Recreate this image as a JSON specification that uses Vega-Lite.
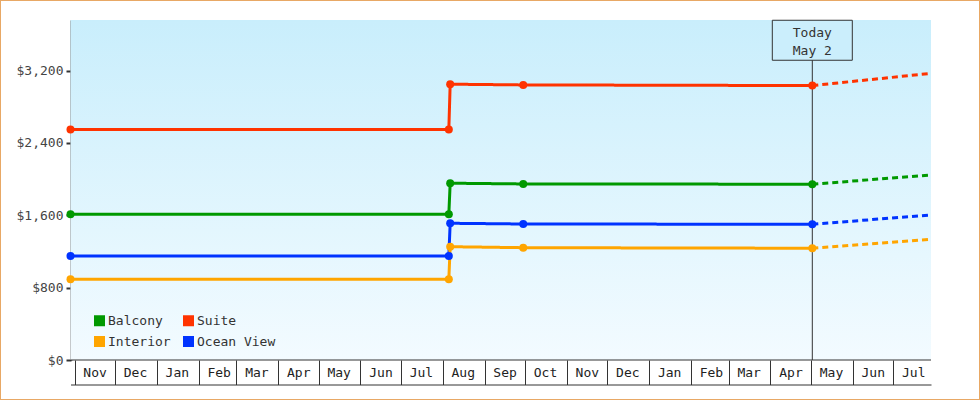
{
  "$schema": "https://vega.github.io/schema/vega-lite/v6.json",
  "width": 980,
  "height": 400,
  "autosize": {"type": "none"},
  "padding": 0,
  "background": "white",
  "config": {
    "font": "DejaVu Sans Mono",
    "view": {"stroke": "#e8a865", "strokeWidth": 2, "fill": "white"},
    "axis": {
      "labelFont": "DejaVu Sans Mono",
      "labelFontSize": 13,
      "labelColor": "#333",
      "domainColor": "#333",
      "tickColor": "#333",
      "grid": false
    },
    "legend": {
      "orient": "none",
      "legendX": 93,
      "legendY": 314,
      "title": null,
      "columns": 2,
      "symbolType": "square",
      "symbolSize": 121,
      "symbolOpacity": 1,
      "symbolStrokeWidth": 0,
      "labelFont": "DejaVu Sans Mono",
      "labelFontSize": 13,
      "labelColor": "#333",
      "labelOffset": 2,
      "columnPadding": 11,
      "rowPadding": 7,
      "padding": 0
    }
  },
  "datasets": {
    "frame": [
      {"date": "2020-10-29T00:00:00", "end": "2022-07-29T00:00:00", "price": 0, "top": 3760}
    ],
    "today": [
      {"date": "2022-05-02T00:00:00", "price": 0, "top": 3536}
    ],
    "label": [
      {"date": "2022-05-02T00:00:00", "price": 3536, "label": "Today\nMay 2"}
    ],
    "prices": [
      {"cabin": "Suite", "kind": "actual", "date": "2020-10-29T00:00:00", "price": 2550},
      {"cabin": "Suite", "kind": "actual", "date": "2021-08-05T12:00:00", "price": 2550},
      {"cabin": "Suite", "kind": "actual", "date": "2021-08-06T12:00:00", "price": 3050},
      {"cabin": "Suite", "kind": "actual", "date": "2021-09-29T16:00:00", "price": 3042},
      {"cabin": "Suite", "kind": "actual", "date": "2022-05-02T00:00:00", "price": 3035},
      {"cabin": "Suite", "kind": "forecast", "date": "2022-05-02T00:00:00", "price": 3035},
      {"cabin": "Suite", "kind": "forecast", "date": "2022-07-29T00:00:00", "price": 3170},
      {"cabin": "Balcony", "kind": "actual", "date": "2020-10-29T00:00:00", "price": 1612},
      {"cabin": "Balcony", "kind": "actual", "date": "2021-08-05T12:00:00", "price": 1612},
      {"cabin": "Balcony", "kind": "actual", "date": "2021-08-06T12:00:00", "price": 1955},
      {"cabin": "Balcony", "kind": "actual", "date": "2021-09-29T16:00:00", "price": 1947},
      {"cabin": "Balcony", "kind": "actual", "date": "2022-05-02T00:00:00", "price": 1944},
      {"cabin": "Balcony", "kind": "forecast", "date": "2022-05-02T00:00:00", "price": 1944},
      {"cabin": "Balcony", "kind": "forecast", "date": "2022-07-29T00:00:00", "price": 2046},
      {"cabin": "Ocean View", "kind": "actual", "date": "2020-10-29T00:00:00", "price": 1150},
      {"cabin": "Ocean View", "kind": "actual", "date": "2021-08-05T12:00:00", "price": 1150},
      {"cabin": "Ocean View", "kind": "actual", "date": "2021-08-06T12:00:00", "price": 1512},
      {"cabin": "Ocean View", "kind": "actual", "date": "2021-09-29T16:00:00", "price": 1504},
      {"cabin": "Ocean View", "kind": "actual", "date": "2022-05-02T00:00:00", "price": 1501},
      {"cabin": "Ocean View", "kind": "forecast", "date": "2022-05-02T00:00:00", "price": 1501},
      {"cabin": "Ocean View", "kind": "forecast", "date": "2022-07-29T00:00:00", "price": 1604},
      {"cabin": "Interior", "kind": "actual", "date": "2020-10-29T00:00:00", "price": 893},
      {"cabin": "Interior", "kind": "actual", "date": "2021-08-05T12:00:00", "price": 893},
      {"cabin": "Interior", "kind": "actual", "date": "2021-08-06T12:00:00", "price": 1253},
      {"cabin": "Interior", "kind": "actual", "date": "2021-09-29T16:00:00", "price": 1242},
      {"cabin": "Interior", "kind": "actual", "date": "2022-05-02T00:00:00", "price": 1236},
      {"cabin": "Interior", "kind": "forecast", "date": "2022-05-02T00:00:00", "price": 1236},
      {"cabin": "Interior", "kind": "forecast", "date": "2022-07-29T00:00:00", "price": 1335}
    ]
  },
  "encoding": {
    "x": {
      "field": "date",
      "type": "temporal",
      "title": null,
      "scale": {
        "type": "time",
        "domain": [{"year": 2020, "month": 10, "date": 29}, {"year": 2022, "month": 7, "date": 29}],
        "range": [70.5, 931],
        "nice": false
      },
      "axis": {
        "orient": "bottom",
        "offset": -15.5,
        "tickCount": {"interval": "month", "step": 1},
        "format": "%b",
        "tickSize": -24.5,
        "tickWidth": 1,
        "domainWidth": 1,
        "labelOffset": 20,
        "labelAlign": "center",
        "labelBaseline": "middle",
        "labelPadding": 12,
        "labelFlush": false,
        "labelOverlap": false,
        "labelBound": false,
        "labelColor": "#222"
      }
    },
    "y": {
      "field": "price",
      "type": "quantitative",
      "title": null,
      "scale": {"domain": [0, 3760], "range": [360, 20], "nice": false, "zero": true},
      "axis": {
        "orient": "left",
        "offset": -71,
        "values": [0, 800, 1600, 2400, 3200],
        "format": "$,d",
        "tickSize": 5,
        "tickWidth": 2,
        "domainWidth": 2,
        "labelPadding": 3,
        "labelFlush": false,
        "labelColor": "#444"
      }
    },
    "color": {
      "field": "cabin",
      "type": "nominal",
      "scale": {
        "domain": ["Balcony", "Interior", "Suite", "Ocean View"],
        "range": ["#009900", "#ffa500", "#ff3300", "#0033ff"]
      },
      "legend": {
        "encode": {
          "symbols": {
            "update": {
              "fill": {"scale": "color", "field": "value"},
              "stroke": {"value": "transparent"},
              "shape": {"value": "square"},
              "opacity": {"value": 1}
            }
          }
        }
      }
    }
  },
  "layer": [
    {
      "data": {"name": "frame", "format": {"parse": {"date": "date", "end": "date"}}},
      "mark": {
        "type": "rect",
        "color": {
          "gradient": "linear",
          "x1": 0, "y1": 0, "x2": 0, "y2": 1,
          "stops": [
            {"offset": 0, "color": "#c9eefc"},
            {"offset": 1, "color": "#f3fbff"}
          ]
        }
      },
      "encoding": {
        "color": null,
        "x2": {"field": "end"},
        "y2": {"field": "top"}
      }
    },
    {
      "data": {"name": "frame", "format": {"parse": {"date": "date", "end": "date"}}},
      "mark": {"type": "rule", "color": "#333", "strokeWidth": 1},
      "encoding": {
        "color": null,
        "x2": {"field": "end"}
      }
    },
    {
      "data": {"name": "today", "format": {"parse": {"date": "date"}}},
      "mark": {"type": "rule", "color": "#333", "strokeWidth": 1},
      "encoding": {
        "color": null,
        "y2": {"field": "top"}
      }
    },
    {
      "data": {"name": "prices", "format": {"parse": {"date": "date"}}},
      "mark": {"type": "line", "strokeWidth": 3, "strokeCap": "butt"},
      "encoding": {
        "strokeDash": {
          "field": "kind",
          "type": "nominal",
          "scale": {"domain": ["actual", "forecast"], "range": [[1, 0], [6, 4]]},
          "legend": null
        }
      }
    },
    {
      "data": {"name": "prices", "format": {"parse": {"date": "date"}}},
      "transform": [{"filter": "datum.kind == 'actual'"}],
      "mark": {"type": "circle", "size": 64, "opacity": 1}
    },
    {
      "data": {"name": "label", "format": {"parse": {"date": "date"}}},
      "mark": {
        "type": "point",
        "shape": "M-1,-0.5H1V0.5H-1Z",
        "size": 6400,
        "filled": true,
        "fill": "#cbeefc",
        "stroke": "#333",
        "strokeWidth": 1,
        "opacity": 1
      },
      "encoding": {
        "color": null
      }
    },
    {
      "data": {"name": "label", "format": {"parse": {"date": "date"}}},
      "mark": {
        "type": "text",
        "align": "center",
        "baseline": "middle",
        "dy": -7,
        "lineBreak": "\n",
        "lineHeight": 18,
        "font": "DejaVu Sans Mono",
        "fontSize": 13,
        "color": "#333"
      },
      "encoding": {
        "color": null,
        "text": {"field": "label"}
      }
    }
  ]
}
